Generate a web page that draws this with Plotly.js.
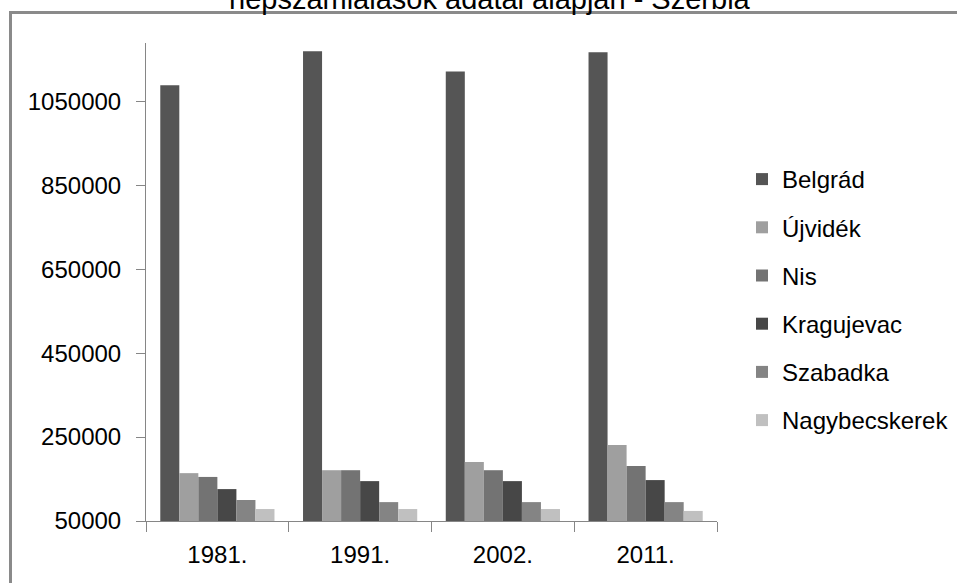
<!DOCTYPE html>
<html>
<head>
<meta charset="utf-8">
<script src="https://cdn.plot.ly/plotly-3.0.1.min.js"></script>
<style>html,body{margin:0;padding:0;background:#fff;}#chart{width:957px;height:583px;}</style>
</head>
<body>
<div id="chart"></div>
<script>
var years = ["1981.", "1991.", "2002.", "2011."];
var cities = ["Belgrád", "Újvidék", "Nis", "Kragujevac", "Szabadka", "Nagybecskerek"];
var belgrad = [1088000, 1169000, 1121000, 1167000];
var ujvidek = [164000, 171000, 190500, 231000];
var nis = [155000, 171000, 171000, 181000];
var kragujevac = [126000, 145000, 145000, 147500];
var szabadka = [100000, 95000, 95000, 95000];
var nagybecskerek = [78500, 78500, 78500, 74000];
var colors = ["#555555", "#9f9f9f", "#737373", "#474747", "#848484", "#c0c0c0"];
var titleText = "népszámlálások adatai alapján - Szerbia";
var axisBase = 50000;

var series = [belgrad, ujvidek, nis, kragujevac, szabadka, nagybecskerek];
var FONT = "Liberation Sans, Arial, sans-serif";

var traces = series.map(function (vals, i) {
  return {
    type: "bar",
    name: cities[i],
    x: years,
    y: vals.map(function (v) { return v - axisBase; }),
    base: axisBase,
    customdata: vals,
    marker: { color: colors[i], line: { width: 0 } },
    legendgroup: "g" + i,
    hovertemplate: "%{x} %{customdata}<extra>" + cities[i] + "</extra>"
  };
});

var L = 146, R = 957 - 717, T = 43, B = 583 - 521;
var W = 957 - L - R, H = 583 - T - B;
function px(x) { return (x - L) / W; }
function py(y) { return (583 - B - y) / H; }

var layout = {
  width: 957,
  height: 583,
  margin: { l: L, r: R, t: T, b: B, pad: 0, autoexpand: false },
  paper_bgcolor: "#ffffff",
  plot_bgcolor: "#ffffff",
  barmode: "group",
  bargap: 0.2,
  bargroupgap: 0,
  font: { family: FONT, size: 24, color: "#000000" },
  xaxis: {
    type: "category",
    showgrid: false,
    showline: true,
    linecolor: "#868686",
    linewidth: 1,
    ticks: "outside",
    tickson: "boundaries",
    ticklen: 10,
    tickcolor: "#868686",
    tickfont: { family: FONT, size: 24, color: "#000000" },
    ticklabelstandoff: 12,
    automargin: false,
    zeroline: false
  },
  yaxis: {
    range: [50000, 1188800],
    tick0: 50000,
    dtick: 200000,
    tickmode: "linear",
    showgrid: false,
    showline: true,
    linecolor: "#868686",
    linewidth: 1,
    ticks: "outside",
    ticklen: 9,
    tickcolor: "#868686",
    tickformat: "d",
    tickfont: { family: FONT, size: 24, color: "#000000" },
    ticklabelstandoff: 10,
    automargin: false,
    zeroline: false
  },
  showlegend: true,
  legend: {
    x: px(742),
    xanchor: "left",
    y: py(157),
    yanchor: "top",
    traceorder: "grouped",
    tracegroupgap: 14,
    font: { family: FONT, size: 24, color: "#000000" },
    bgcolor: "rgba(0,0,0,0)",
    borderwidth: 0
  },
  shapes: [{
    type: "rect",
    xref: "paper", yref: "paper",
    x0: px(10.5), x1: px(1000),
    y0: py(12.5), y1: py(640),
    line: { color: "#8a8a8a", width: 3 },
    fillcolor: "rgba(0,0,0,0)",
    layer: "below"
  }],
  annotations: [{
    xref: "paper", yref: "paper",
    x: px(489.5), y: py(16),
    xanchor: "center", yanchor: "bottom",
    text: titleText,
    showarrow: false,
    borderpad: 0,
    font: { family: FONT, size: 29, color: "#000000" }
  }]
};

Plotly.newPlot("chart", traces, layout, { displayModeBar: false, staticPlot: true });
</script>
</body>
</html>
